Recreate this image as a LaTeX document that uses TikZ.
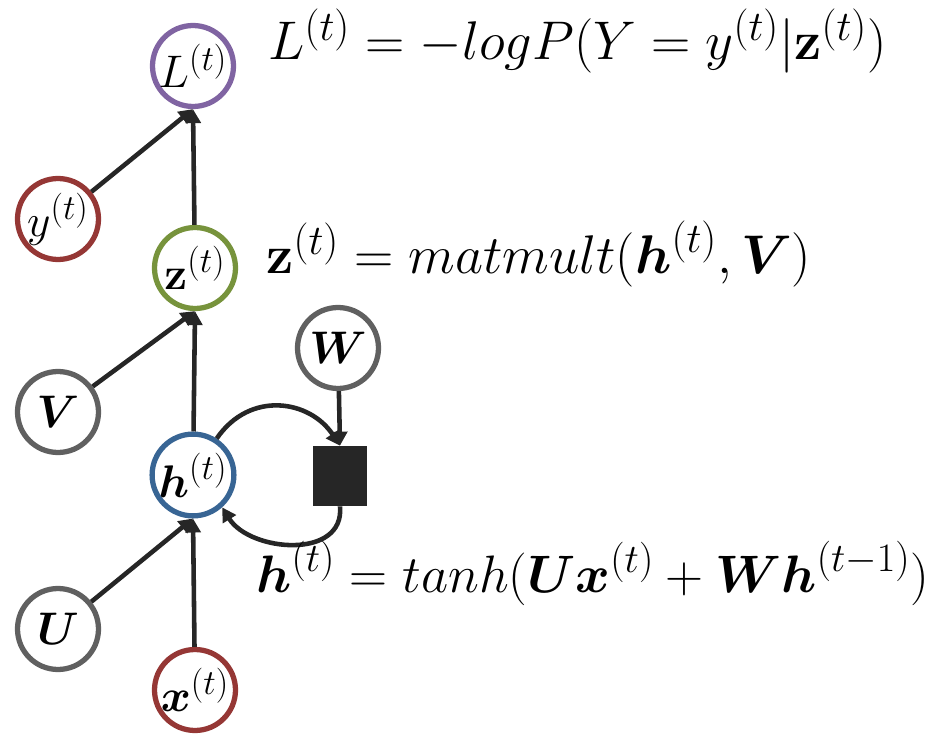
\RequirePackage{fix-cm}
\documentclass[tikz,border=0pt]{standalone}
\usepackage{amsmath,amssymb}
\usetikzlibrary{arrows.meta}
\DeclareMathSizes{31}{31}{24}{19}
\DeclareMathSizes{30}{30}{23}{18}
\DeclareMathSizes{26}{26}{20}{16}
\definecolor{lossc}{HTML}{8064A2}
\definecolor{obsc}{HTML}{953735}
\definecolor{outc}{HTML}{77933C}
\definecolor{hidc}{HTML}{386594}
\definecolor{parc}{HTML}{606060}
\definecolor{arrc}{HTML}{262626}
\begin{document}
\begin{tikzpicture}[x=0.02cm, y=-0.02cm, every node/.style={font=\fontsize{26}{30}\selectfont}, >={Triangle[length=2.8mm, width=3mm]},
	varnode/.style={circle, draw=#1, line width=3pt, fill=white, minimum size=1.62cm, inner sep=0pt},
	eqn/.style={anchor=base west, inner sep=0pt, font=\fontsize{31}{36}\selectfont},
	link/.style={->, draw=arrc, line width=2.6pt}]
	\useasboundingbox (0,0) rectangle (943,743);
	% variables
	\node[varnode=lossc] (L) at (193,66) {$L^{(t)}$};
	\node[varnode=obsc] (y) at (58,219) {$y^{(t)}$};
	\node[varnode=outc] (z) at (195,268) {$\mathbf{z}^{(t)}$};
	\node[varnode=parc] (W) at (338,348) {$\boldsymbol{W}$};
	\node[varnode=parc] (V) at (58,412) {$\boldsymbol{V}$};
	\node[varnode=hidc] (h) at (193,475) {$\boldsymbol{h}^{(t)}$};
	\node[varnode=parc] (U) at (58,629) {$\boldsymbol{U}$};
	\node[varnode=obsc] (x) at (195,690) {$\boldsymbol{x}^{(t)}$};
	\node[fill=arrc, minimum width=1.1cm, minimum height=1.2cm, inner sep=0pt] (sq) at (340,476) {};
	% edges
	\draw[link] (y) -- (L.south);
	\draw[link] (z) -- (L.south);
	\draw[link] (V) -- (z.south);
	\draw[link] (h) -- (z.south);
	\draw[link] (U) -- (h.south);
	\draw[link] (x) -- (h.south);
	\draw[link] (W) -- (sq.north);
	\draw[link] (h.57) .. controls (250,390) and (310,400) .. (sq.north);
	\draw[link] (sq.south) .. controls (345,560) and (250,552) .. (h.-48);
	% equations
	\node[eqn] (eqL) at (268,60) {$L^{(t)} = -logP(Y = y^{(t)}|\mathbf{z}^{(t)})$};
	\node[eqn] (eqz) at (266,274) {$\mathbf{z}^{(t)} = matmult(\boldsymbol{h}^{(t)},\boldsymbol{V})$};
	\node[eqn, font=\fontsize{30}{34}\selectfont] (eqh) at (256,592) {$\boldsymbol{h}^{(t)} = tanh(\boldsymbol{U}\boldsymbol{x}^{(t)} + \boldsymbol{W}\boldsymbol{h}^{(t-1)})$};
\end{tikzpicture}
\end{document}
